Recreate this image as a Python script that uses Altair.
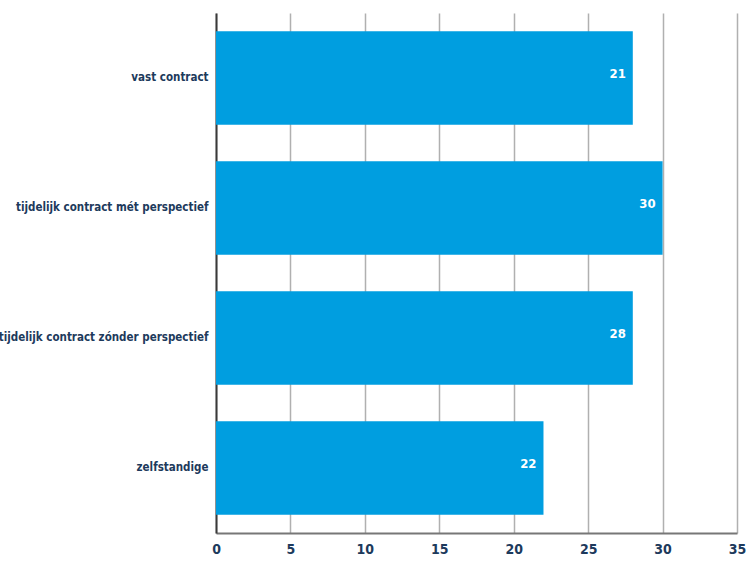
import altair as alt
import pandas as pd

# Categories, bar lengths and the figures printed inside the bars
categories = [
    "vast contract",
    "tijdelijk contract mét perspectief",
    "tijdelijk contract zónder perspectief",
    "zelfstandige",
]
values = [28, 30, 28, 22]
printed = ["21", "30", "28", "22"]
x_ticks = [0, 5, 10, 15, 20, 25, 30, 35]

df = pd.DataFrame({"cat": categories, "value": values, "label": printed})

FONT = "DejaVu Sans Condensed"
NAVY = "#1d3a5c"
BLUE = "#009ee0"

y_enc = alt.Y(
    "cat:N",
    sort=categories,
    scale=alt.Scale(paddingInner=0.28, paddingOuter=0.14),
    axis=alt.Axis(
        title=None,
        labelFont=FONT,
        labelFontSize=11.5,
        labelFontWeight="bold",
        labelColor=NAVY,
        labelPadding=8,
        ticks=False,
        domain=True,
        domainColor="#3a3a3a",
        domainWidth=2,
        labelLimit=300,
    ),
)

x_enc = alt.X(
    "value:Q",
    scale=alt.Scale(domain=[0, 35], nice=False),
    axis=alt.Axis(
        title=None,
        values=x_ticks,
        labelFont=FONT,
        labelFontSize=14,
        labelFontWeight="bold",
        labelColor=NAVY,
        labelPadding=9,
        labelFlush=False,
        ticks=False,
        grid=True,
        gridColor="#b0b0b0",
        gridWidth=1.5,
        domain=True,
        domainColor="#777777",
        domainWidth=2,
    ),
)

bars = alt.Chart(df).mark_bar(color=BLUE).encode(x=x_enc, y=y_enc)

text = alt.Chart(df).mark_text(
    align="right",
    baseline="middle",
    dx=-7,
    dy=-4,
    color="white",
    font=FONT,
    fontSize=13,
    fontWeight="bold",
).encode(x="value:Q", y=alt.Y("cat:N", sort=categories), text="label:N")

chart = (
    (bars + text)
    .properties(
        width=521,
        height=520,
        autosize=alt.AutoSizeParams(type="none"),
        padding={"left": 216, "top": 13, "right": 9, "bottom": 28},
        background="white",
    )
    .configure_view(stroke=None)
)

chart.save("out.html", embed_options={"renderer": "svg", "actions": False})
